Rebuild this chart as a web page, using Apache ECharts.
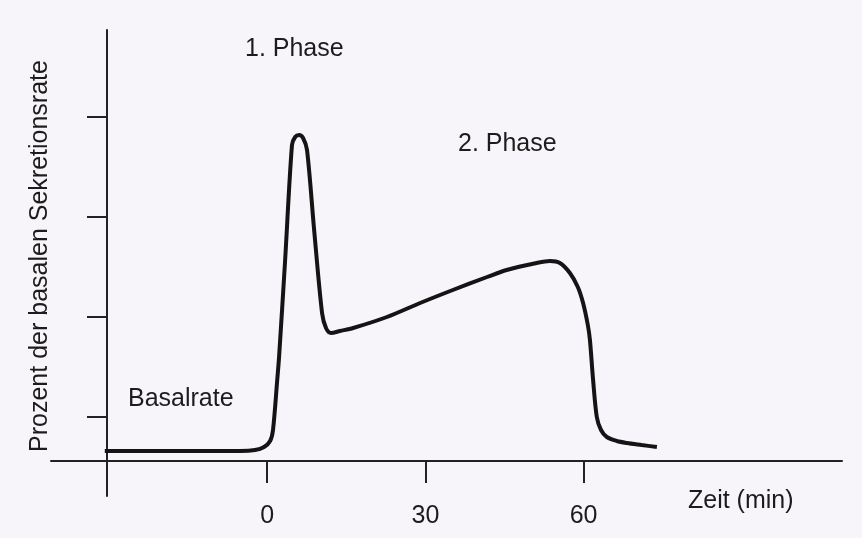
<!DOCTYPE html>
<html>
<head>
<meta charset="utf-8">
<title>Sekretionsrate</title>
<script src="https://cdn.jsdelivr.net/npm/echarts@6/dist/echarts.min.js"></script>
<style>
    html, body { margin: 0; padding: 0; background: #f7f5f9; }
    #chart { width: 862px; height: 538px; }
</style>
</head>
<body>
<div id="chart"></div>
<script>
    // Zeit in Minuten
    var zeit = [-30.8, -16.5, -5.1, -2.3, -0.6, 0.55, 1.1, 1.9, 2.25, 3.4, 4.7, 5.3, 6.05, 6.8, 7.55, 8.9,
        10.4, 11.15, 12.1, 13.8, 16.3, 22.7, 29.0, 35.2, 41.7, 45.4, 51.1, 53.6, 55.5, 57.4, 58.9,
        59.9, 60.8, 61.2, 61.8, 62.5, 63.3, 64.4, 66.3, 68.2, 71.0, 73.9];
    // Sekretionsrate (relative Einheiten, x-Achse = 0)
    var rate = [10, 10, 10, 11, 14, 20, 31, 81, 104, 201, 316, 324, 326, 323, 311, 231,
        148, 133, 128, 130, 133, 144, 158, 171, 184, 191, 198, 200, 198, 188, 174,
        158, 136, 121, 81, 44, 31, 24, 20, 18, 16, 14];
    var xTicks = [0, 30, 60];
    var yTicks = [44, 144, 244, 344];

    var points = [];
    for (var i = 0; i < zeit.length; i++) {
        points.push([zeit[i], rate[i]]);
    }

    var textColor = '#1c1c1c';
    var font = '25px "Liberation Sans", Arial, sans-serif';

    var chart = echarts.init(document.getElementById('chart'));
    var option = {
        backgroundColor: '#f7f5f9',
        animation: false,
        grid: {
            left: 51,
            right: 20,
            top: 30,
            bottom: 42,
            outerBoundsMode: 'none'
        },
        xAxis: {
            type: 'value',
            min: -41,
            max: 109,
            axisLine: { show: true, onZero: true, lineStyle: { color: '#222', width: 2 } },
            axisTick: { show: true, length: 22, customValues: xTicks, lineStyle: { color: '#222', width: 2 } },
            axisLabel: {
                show: true,
                customValues: xTicks,
                margin: 8, // vom unteren Rand des Grids gemessen
                color: textColor,
                fontSize: 25,
                fontFamily: 'Liberation Sans'
            },
            splitLine: { show: false }
        },
        yAxis: {
            type: 'value',
            min: -35,
            max: 431,
            position: 'left',
            offset: -56, // y-Achse liegt bei -30 min
            axisLine: { show: true, onZero: false, lineStyle: { color: '#222', width: 2 } },
            axisTick: { show: true, length: 20, customValues: yTicks, lineStyle: { color: '#222', width: 2 } },
            axisLabel: { show: false },
            splitLine: { show: false }
        },
        series: [
            {
                type: 'line',
                data: points,
                smooth: 0.3,
                showSymbol: false,
                lineStyle: { color: '#141414', width: 4 }
            }
        ],
        graphic: [
            { type: 'text', x: 245, y: 49, style: { text: '1. Phase', font: font, fill: textColor, verticalAlign: 'middle' } },
            { type: 'text', x: 458, y: 144, style: { text: '2. Phase', font: font, fill: textColor, verticalAlign: 'middle' } },
            { type: 'text', x: 128, y: 399, style: { text: 'Basalrate', font: font, fill: textColor, verticalAlign: 'middle' } },
            { type: 'text', x: 688, y: 501, style: { text: 'Zeit (min)', font: font, fill: textColor, verticalAlign: 'middle' } },
            {
                type: 'text', x: 40, y: 256, rotation: Math.PI / 2,
                style: { text: 'Prozent der basalen Sekretionsrate', font: font, fill: textColor, align: 'center', verticalAlign: 'middle' }
            }
        ]
    };
    chart.setOption(option);
</script>
</body>
</html>
